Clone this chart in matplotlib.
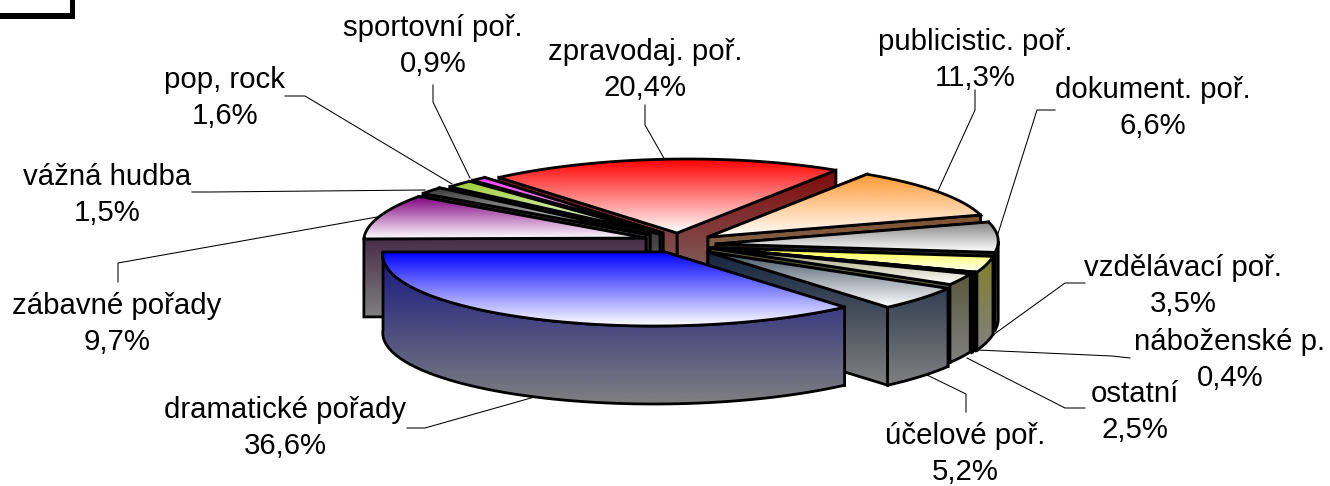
import numpy as np
import matplotlib
matplotlib.use('Agg')
import matplotlib.pyplot as plt
from matplotlib.colors import to_rgb
from matplotlib.patches import Polygon, Rectangle

plt.rcParams['font.family'] = ['Liberation Sans', 'DejaVu Sans']

# counter-clockwise on the page, starting from the left (180 deg)
categories = ['dramatické pořady', 'účelové poř.', 'ostatní', 'náboženské p.', 'vzdělávací poř.', 'dokument. poř.',
              'publicistic. poř.', 'zpravodaj. poř.', 'sportovní poř.', 'pop, rock', 'vážná hudba', 'zábavné pořady']
shares = [36.6, 5.2, 2.5, 0.4, 3.5, 6.6, 11.3, 20.4, 0.9, 1.6, 1.5, 9.7]
share_labels = ['36,6%', '5,2%', '2,5%', '0,4%', '3,5%', '6,6%', '11,3%', '20,4%', '0,9%', '1,6%', '1,5%', '9,7%']

top_colors = ['#0000ff', '#404f60', '#999966', '#000000', '#ffff33', '#808080',
              '#ff9933', '#ff0000', '#ff33ff', '#99cc33', '#333333', '#800080']
side_colors = ['#141480', '#14243f', '#4d4d26', '#000000', '#808020', '#000000',
               '#80400f', '#800000', '#111111', '#111111', '#1a1a1a', '#2a002a']

# exploded slice centres, page pixels
apex_x = [665, 708, 710, 712, 714, 716, 708, 677, 663, 660, 650, 646]
apex_y = [252, 252, 248, 248, 248, 244, 237, 233, 233, 234, 235, 238]

# back to front
draw_order = [7, 8, 9, 10, 11, 6, 5, 4, 3, 2, 1, 0]

RX = 282
RY = 74
SHEAR = 11
DEPTH = 78
EDGE = 2.0

label_x = [285, 965, 1135, 1230, 1183, 1153, 975, 645, 433, 225, 107, 117]
label_y = [428, 454, 412, 360, 286, 108, 60, 70, 46, 98, 195, 324]

leaders = [
    [(407, 428), (425, 428), (538, 396)],
    [(966, 412), (966, 394), (925, 374)],
    [(1085, 408), (1065, 408), (967, 358)],
    [(1130, 358), (1112, 356), (977, 350)],
    [(1085, 283), (1065, 283), (975, 348)],
    [(1055, 110), (1037, 110), (996, 240)],
    [(975, 90), (975, 110), (937, 193)],
    [(645, 105), (645, 125), (665, 160)],
    [(433, 85), (433, 102), (470, 178)],
    [(285, 96), (305, 96), (452, 184)],
    [(192, 192), (210, 192), (425, 190)],
    [(118, 282), (118, 263), (377, 217)],
]

fig = plt.figure(figsize=(13.3, 4.86), dpi=100)
ax = fig.add_axes([0, 0, 1, 1])
ax.set_xlim(0, 1330)
ax.set_ylim(486, 0)
ax.axis('off')
ax.set_autoscale_on(False)

zorder = [10]


def next_z():
    zorder[0] += 1
    return zorder[0]


def gradient_poly(pts, c_from, c_to, y_from, y_to):
    pts = np.asarray(pts)
    z = next_z()
    patch = Polygon(pts, closed=True, fc='none', ec='black', lw=EDGE, joinstyle='miter', zorder=z + 0.5)
    ax.add_patch(patch)
    t = np.linspace(0, 1, 256)[:, None, None]
    img = (1 - t) * np.array(to_rgb(c_from))[None, None, :] + t * np.array(to_rgb(c_to))[None, None, :]
    im = ax.imshow(img, extent=(pts[:, 0].min() - 1, pts[:, 0].max() + 1, y_to, y_from), aspect='auto',
                   interpolation='bilinear', zorder=z)
    im.set_clip_path(patch)
    ax.set_xlim(0, 1330)
    ax.set_ylim(486, 0)


def arc(i, a0, a1):
    th = np.radians(np.linspace(a0, a1, max(int(abs(a1 - a0) * 2), 2)))
    x = apex_x[i] + RX * np.cos(th) + SHEAR * np.sin(th)
    y = apex_y[i] - RY * np.sin(th)
    return np.column_stack([x, y])


def draw_slice(i, a0, a1):
    rim = arc(i, a0, a1)
    apex = np.array([apex_x[i], apex_y[i]], dtype=float)
    down = np.array([0, DEPTH])
    top_pts = np.vstack([apex, rim])
    y_min = top_pts[:, 1].min()
    y_max = top_pts[:, 1].max()

    # radial walls first, the one facing the viewer goes last
    ends = (rim[0], rim[-1])
    if np.cos(np.radians((a0 + a1) / 2)) > 0:
        ends = (rim[-1], rim[0])
    for end in ends:
        wall = [apex, end, end + down, apex + down]
        gradient_poly(wall, side_colors[i], '#808080', y_min, y_max + DEPTH)

    # outer wall, only what faces the viewer
    lo = max(a0, 180)
    hi = min(a1, 362)
    if hi > lo:
        front = arc(i, lo, hi)
        wall = np.vstack([front, (front + down)[::-1]])
        gradient_poly(wall, side_colors[i], '#808080', y_min, y_max + DEPTH)

    gradient_poly(top_pts, top_colors[i], '#ffffff', y_min, y_max)


angles = 180 + np.concatenate([[0], np.cumsum(shares)]) * 3.6
for i in draw_order:
    draw_slice(i, angles[i], angles[i + 1])

for i, name in enumerate(categories):
    pts = np.array(leaders[i])
    ax.plot(pts[:, 0], pts[:, 1], color='black', lw=0.75, zorder=5)
    ax.text(label_x[i], label_y[i], name + '\n' + share_labels[i], ha='center', va='center', fontsize=21.2,
            linespacing=1.4, color='black', zorder=50)

# cut-off box in the corner
ax.add_patch(Rectangle((-5, -5), 75, 18, fc='white', ec='#555555', lw=0.75, zorder=60))
ax.add_patch(Rectangle((-5, 13.5), 80, 6, fc='black', ec='none', zorder=60))
ax.add_patch(Rectangle((70, -5), 5, 24, fc='black', ec='none', zorder=60))

fig.savefig('out.png', dpi=100)
